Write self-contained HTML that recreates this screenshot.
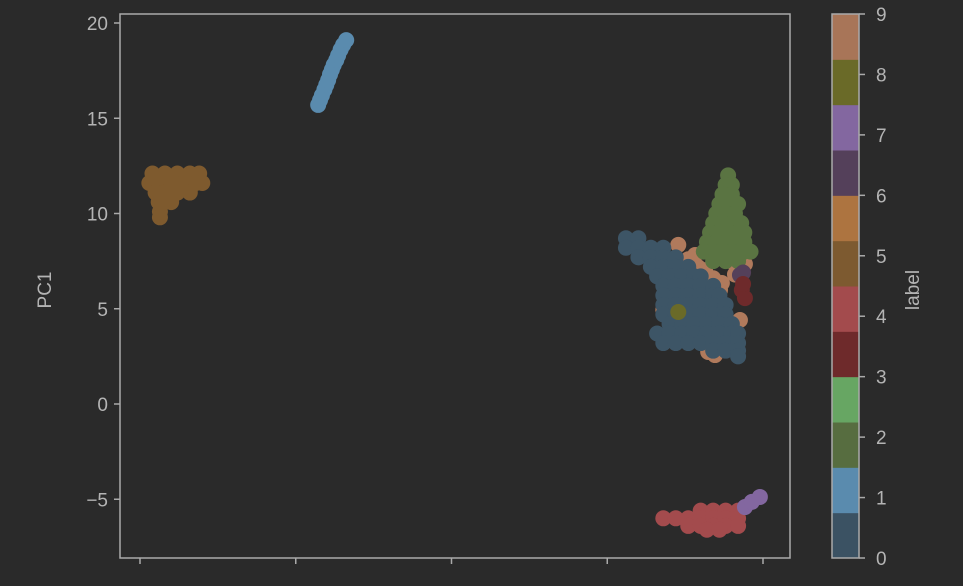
<!DOCTYPE html>
<html><head><meta charset="utf-8">
<style>
html,body{margin:0;padding:0;background:#2a2a2a;}
svg{display:block;font-family:"Liberation Sans","DejaVu Sans",sans-serif;}
</style></head>
<body>
<svg id="chart" width="963" height="586" viewBox="0 0 963 586">
<rect x="0" y="0" width="963" height="586" fill="#2a2a2a"/>
<g id="marks"></g>
<g id="axes"></g>
<g id="cbar"></g>
</svg>
<script>
const yTicks = [20, 15, 10, 5, 0, -5];
const xTicks = [0, 25, 50, 75, 100];
const cbTicks = [0,1,2,3,4,5,6,7,8,9];
const cbColors = ['#3b5263','#5a8bae','#576d40','#67a663','#6e2a2b','#a34b4d','#7d5a30','#ad7440','#54405a','#8367a0','#6a6a28','#a87558'];
const labelColors = {0:'#3d5566',1:'#5a8bae',2:'#5a7442',3:'#6e2a2b',4:'#a34b4d',5:'#7e5a2e',6:'#54405a',7:'#8367a0',8:'#6a6a28',9:'#b07a5c'};
const drawOrder = [5,1,9,0,2,6,3,8,4,7];
const cl0x = [78,80, 78,80,82,84, 80,82,84,86, 82,84,86,88, 83,85,87,89,90, 84,86,88,90,92, 84,86,88,90,92,93, 84,86,88,90,92,94, 84,86,88,90,92,94, 85,87,89,91,93,95, 83,85,87,89,91,93,95,96, 84,86,88,90,92,94,96, 92,94,96, 96];
const cl0y = [8.7,8.7, 8.2,8.2,8.2,8.2, 7.7,7.7,7.7,7.7, 7.2,7.2,7.2,7.2, 6.7,6.7,6.7,6.7,6.7, 6.2,6.2,6.2,6.2,6.2, 5.7,5.7,5.7,5.7,5.7,5.7, 5.2,5.2,5.2,5.2,5.2,5.2, 4.7,4.7,4.7,4.7,4.7,4.7, 4.2,4.2,4.2,4.2,4.2,4.2, 3.7,3.7,3.7,3.7,3.7,3.7,3.7,3.7, 3.2,3.2,3.2,3.2,3.2,3.2,3.2, 2.8,2.8,2.8, 2.5];
const cl1x = [28.6,28.9,29.2,29.6,29.9,30.2,30.5,30.8,31.1,31.5,31.8,32.2,32.6,33.1];
const cl1y = [15.7,15.95,16.2,16.5,16.75,17.0,17.3,17.55,17.8,18.05,18.3,18.6,18.85,19.1];
const cl2x = [94.4, 94,95, 93.5,95, 93,94.5,96, 92.5,94,95.5, 92,93.5,95,96.5, 91.5,93,94.5,96,97, 91,92.5,94,95.5,97, 90.5,92,93.5,95,97,98, 92,94,96];
const cl2y = [12.0, 11.5,11.5, 11.0,11.0, 10.5,10.5,10.5, 10.0,10.0,10.0, 9.5,9.5,9.5,9.5, 9.0,9.0,9.0,9.0,9.0, 8.5,8.5,8.5,8.5,8.5, 8.0,8.0,8.0,8.0,8.0,8.0, 7.5,7.5,7.5];
const cl3x = [96.6,97.1,96.8];
const cl3y = [5.98,5.56,6.3];
const cl4x = [90,92,94,96, 84,86,88,90,92,94,96, 88,90,92,94,96, 91,93];
const cl4y = [-5.6,-5.6,-5.6,-5.6, -6.0,-6.0,-6.0,-6.0,-6.0,-6.0,-6.0, -6.4,-6.4,-6.4,-6.4,-6.4, -6.6,-6.6];
const cl5x = [2,4,6,8,9.5, 1.5,3,5,7,9,10, 2.5,4,6,8, 3,5, 3.2,3.2];
const cl5y = [12.1,12.1,12.1,12.1,12.1, 11.6,11.6,11.6,11.6,11.6,11.6, 11.1,11.1,11.1,11.1, 10.6,10.6, 10.1,9.8];
const cl6x = [96.3,96.8];
const cl6y = [6.77,6.9];
const cl7x = [97.1,98.2,99.5];
const cl7y = [-5.41,-5.14,-4.88];
const cl8x = [86.4];
const cl8y = [4.83];
const cl9x = [86.4,89.1,90.7,92.0,93.4,97.1,95.5,93.1,96.3,84.0,91.2,92.3,84.5,95.5,88,89.5];
const cl9y = [8.35,7.82,7.03,6.6,6.35,7.35,7.35,5.98,4.41,4.93,2.73,2.57,5.4,6.8,7.6,7.2];
const clusters = {0:[cl0x,cl0y],1:[cl1x,cl1y],2:[cl2x,cl2y],3:[cl3x,cl3y],4:[cl4x,cl4y],5:[cl5x,cl5y],6:[cl6x,cl6y],7:[cl7x,cl7y],8:[cl8x,cl8y],9:[cl9x,cl9y]};

const NS='http://www.w3.org/2000/svg';
const X0=120,X1=790,Y0=14,Y1=558;
function xs(v){return 140 + v*6.23;}
function ys(v){return 404 - v*19.05;}
function mk(tag,attrs,parent){const e=document.createElementNS(NS,tag);for(const k in attrs)e.setAttribute(k,attrs[k]);parent.appendChild(e);return e;}
const marks=document.getElementById('marks');
drawOrder.forEach(lab=>{
  const [xa,ya]=clusters[lab];
  for(let i=0;i<xa.length;i++){
    const c=mk('circle',{cx:xs(xa[i]),cy:ys(ya[i]),r:8,fill:labelColors[lab]},marks);
    
    
  }
});
const axes=document.getElementById('axes');
const frame=mk('rect',{x:X0,y:Y0,width:X1-X0,height:Y1-Y0,fill:'none',stroke:'#aaaaaa','stroke-width':1.5},axes);


yTicks.forEach(t=>{
  const y=ys(t);
  const l=mk('line',{x1:X0-6,x2:X0,y1:y,y2:y,stroke:'#aaaaaa','stroke-width':1.5},axes);
  
  
  const tx=mk('text',{x:X0-12,y:y+7,'text-anchor':'end','font-size':19,fill:'#b4b4b4'},axes);
  tx.textContent=(t<0?'\u2212'+(-t):String(t));
  
  
});
xTicks.forEach(t=>{
  const x=xs(t);
  const l=mk('line',{x1:x,x2:x,y1:Y1,y2:Y1+6,stroke:'#aaaaaa','stroke-width':1.5},axes);
  
  
});
const yl=mk('text',{x:0,y:0,transform:'translate(51,290) rotate(-90)','text-anchor':'middle','font-size':19,fill:'#b4b4b4'},axes);
yl.textContent='PC1';



const cb=document.getElementById('cbar');
const CX0=832,CX1=859,CY0=14,CY1=558;
const bh=(CY1-CY0)/cbColors.length;
cbColors.forEach((c,i)=>{
  const r=mk('rect',{x:CX0,y:CY1-(i+1)*bh,width:CX1-CX0,height:bh+0.5,fill:c},cb);
  
  
});
const cf=mk('rect',{x:CX0,y:CY0,width:CX1-CX0,height:CY1-CY0,fill:'none',stroke:'#aaaaaa','stroke-width':1.5},cb);


cbTicks.forEach(t=>{
  const y=CY1-t*(CY1-CY0)/9;
  const l=mk('line',{x1:CX1,x2:CX1+6,y1:y,y2:y,stroke:'#aaaaaa','stroke-width':1.5},cb);
  
  
  const tx=mk('text',{x:CX1+17,y:y+7,'font-size':19,fill:'#b4b4b4'},cb);
  tx.textContent=String(t);
  
  
});
const cl=mk('text',{x:0,y:0,transform:'translate(919,290) rotate(-90)','text-anchor':'middle','font-size':19,fill:'#b4b4b4'},cb);
cl.textContent='label';


</script>
</body></html>
